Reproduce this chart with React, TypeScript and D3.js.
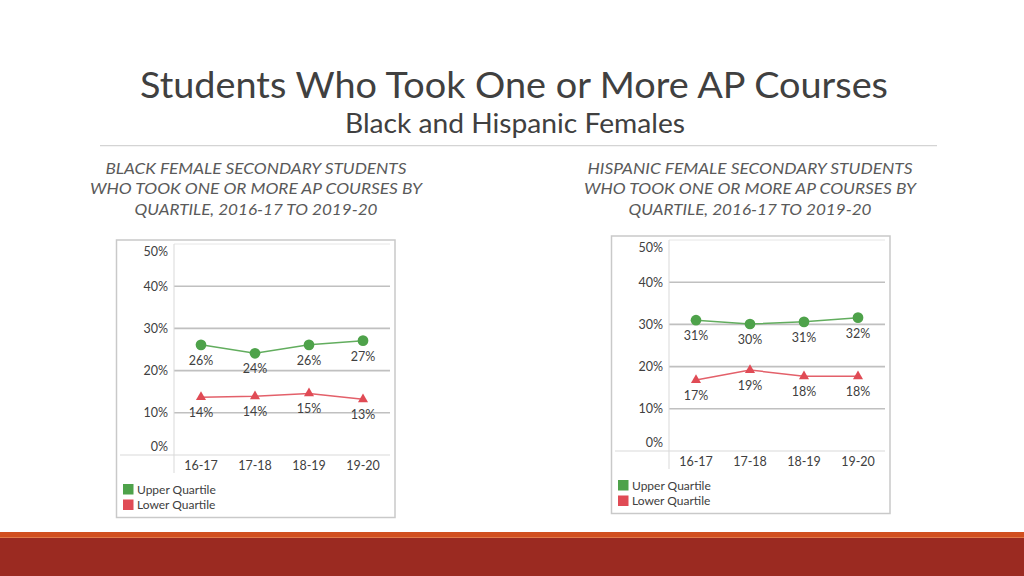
import React from "react";
import * as d3 from "d3";

const categories = ["16-17", "17-18", "18-19", "19-20"];
const seriesNames = ["Upper Quartile", "Lower Quartile"];
const blackUpper = [0.261, 0.241, 0.261, 0.271];
const blackLower = [0.137, 0.139, 0.146, 0.132];
const hispUpper = [0.31, 0.301, 0.306, 0.316];
const hispLower = [0.168, 0.192, 0.177, 0.177];
const yTicks = [0, 0.1, 0.2, 0.3, 0.4, 0.5];

const title = "Students Who Took One or More AP Courses";
const subtitle = "Black and Hispanic Females";
const blackHeading = [
  "BLACK FEMALE SECONDARY STUDENTS",
  "WHO TOOK ONE OR MORE AP COURSES BY",
  "QUARTILE, 2016-17 TO 2019-20",
];
const hispHeading = [
  "HISPANIC FEMALE SECONDARY STUDENTS",
  "WHO TOOK ONE OR MORE AP COURSES BY",
  "QUARTILE, 2016-17 TO 2019-20",
];

const GREEN = "#4ea24a";
const GREEN_LINE = "#62ad5e";
const RED = "#e04b55";
const RED_LINE = "#e3606a";
const FONT = "Lato, 'Open Sans', sans-serif";

type PanelProps = {
  dx: number;
  dy: number;
  upper: number[];
  lower: number[];
};

function Panel({ dx, dy, upper, lower }: PanelProps) {
  const plotLeft = 174;
  const plotRight = 390;
  const plotTop = 244;
  const plotBottom = 455;
  const x = d3.scaleBand<string>().domain(categories).range([plotLeft, plotRight]).padding(0);
  const y = d3.scaleLinear().domain([0, 0.5]).range([plotBottom, plotTop]);
  const cx = (c: string) => (x(c) as number) + x.bandwidth() / 2;
  const line = d3
    .line<number>()
    .x((_, i) => cx(categories[i]))
    .y((d) => y(d));
  const circle = d3.symbol().type(d3.symbolCircle).size(90)();
  const tri = d3.symbol().type(d3.symbolTriangle).size(44)();
  const fmt = d3.format(".0%");
  const series = [
    { name: seriesNames[0], values: upper, color: GREEN, lineColor: GREEN_LINE, marker: circle },
    { name: seriesNames[1], values: lower, color: RED, lineColor: RED_LINE, marker: tri },
  ];
  const fs = 12.5;
  return (
    <g transform={`translate(${dx},${dy})`}>
      <rect x={116.5} y={240} width={278.5} height={277.5} fill="#fff" stroke="#c9c9c9" strokeWidth={1.5} />
      {yTicks.map((t) => (
        <line
          key={"g" + t}
          x1={t === 0 ? 120 : plotLeft}
          x2={plotRight}
          y1={y(t)}
          y2={y(t)}
          stroke={t === 0 ? "#d9d9d9" : t === 0.5 ? "#e6e6e6" : "#c0c0c0"}
          strokeWidth={t === 0 || t === 0.5 ? 1 : 1.6}
        />
      ))}
      <line x1={plotLeft} x2={plotLeft} y1={plotTop} y2={473} stroke="#d9d9d9" strokeWidth={1} />
      {yTicks.map((t) => {
        const ty = Math.min(Math.max(y(t), plotTop + 8), plotBottom - 8);
        return (
          <text
            key={"t" + t}
            x={168}
            y={ty}
            dy="0.35em"
            textAnchor="end"
            fontFamily={FONT}
            fontSize={fs}
            fill="#404040"
          >
            {fmt(t)}
          </text>
        );
      })}
      {categories.map((c) => (
        <text key={c} x={cx(c)} y={469.5} textAnchor="middle" fontFamily={FONT} fontSize={fs} fill="#404040">
          {c}
        </text>
      ))}
      {series.map((s) => (
        <g key={s.name}>
          <path d={line(s.values) as string} fill="none" stroke={s.lineColor} strokeWidth={1.5} />
          {s.values.map((v, i) => (
            <path
              key={i}
              d={s.marker as string}
              transform={`translate(${cx(categories[i])},${y(v)})`}
              fill={s.color}
            />
          ))}
          {s.values.map((v, i) => (
            <text
              key={"l" + i}
              x={cx(categories[i])}
              y={y(v) + 15.5}
              dy="0.35em"
              textAnchor="middle"
              fontFamily={FONT}
              fontSize={fs}
              fill="#404040"
            >
              {fmt(v)}
            </text>
          ))}
        </g>
      ))}
      {series.map((s, i) => (
        <g key={"lg" + i}>
          <rect x={123} y={484 + i * 15.5} width={10.5} height={10.5} fill={s.color} />
          <text x={137} y={489.5 + i * 15.5} dy="0.35em" fontFamily={FONT} fontSize={12} fill="#404040">
            {s.name}
          </text>
        </g>
      ))}
    </g>
  );
}

function Heading({ cx, lines, widths }: { cx: number; lines: string[]; widths: number[] }) {
  return (
    <g>
      {lines.map((l, i) => (
        <text
          key={i}
          x={cx}
          y={174 + i * 20.3}
          textAnchor="middle"
          fontFamily={FONT}
          fontStyle="italic"
          fontSize={15.5}
          fill="#5a5a5a"
          textLength={widths[i]}
          lengthAdjust="spacingAndGlyphs"
        >
          {l}
        </text>
      ))}
    </g>
  );
}

export default function App() {
  return (
    <svg
      width={1024}
      height={576}
      style={{ position: "absolute", left: 0, top: 0, background: "#fff" }}
    >
      <rect x={0} y={0} width={1024} height={576} fill="#fff" />
      <text
        x={514}
        y={98}
        textAnchor="middle"
        fontFamily={FONT}
        fontSize={37}
        fill="#404040"
        textLength={748}
        lengthAdjust="spacingAndGlyphs"
      >
        {title}
      </text>
      <text
        x={515}
        y={132.5}
        textAnchor="middle"
        fontFamily={FONT}
        fontSize={26}
        fill="#404040"
        textLength={340}
        lengthAdjust="spacingAndGlyphs"
      >
        {subtitle}
      </text>
      <line x1={100} x2={937} y1={145.7} y2={145.7} stroke="#d4d4d4" strokeWidth={1.3} />
      <Heading cx={256} lines={blackHeading} widths={[301, 332, 243]} />
      <Heading cx={750} lines={hispHeading} widths={[325, 332, 243]} />
      <Panel dx={0} dy={0} upper={blackUpper} lower={blackLower} />
      <Panel dx={495} dy={-4} upper={hispUpper} lower={hispLower} />
      <rect x={0} y={532} width={1024} height={5.5} fill="#d14f1f" />
      <rect x={0} y={537} width={1024} height={1} fill="#e07a4a" />
      <rect x={0} y={538} width={1024} height={38} fill="#9b2a21" />
    </svg>
  );
}
